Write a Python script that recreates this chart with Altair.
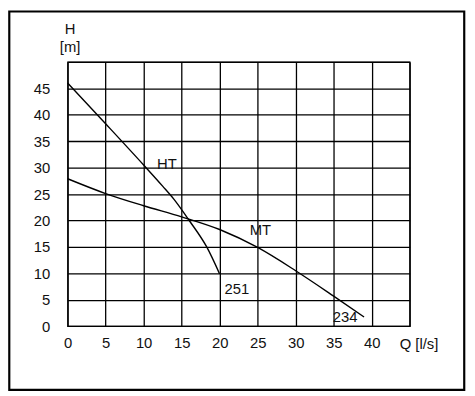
import altair as alt
import pandas as pd

# Curve data
ht_q = [0, 5, 10, 12.5, 14, 16, 18.3, 20.0]
ht_h = [46, 38.3, 30.5, 26.5, 24, 20, 15, 9.9]
mt_q = [0, 5, 10, 15, 20, 25, 30, 35, 39]
mt_h = [27.9, 25.1, 22.8, 20.7, 18.3, 14.9, 10.5, 5.7, 1.75]

label_text = ["HT", "MT", "251", "234"]
label_q = [13.07, 25.36, 22.27, 36.5]
label_h = [30.74, 18.27, 6.96, 1.68]

x_ticks = [0, 5, 10, 15, 20, 25, 30, 35, 40, 45]
y_ticks = [0, 5, 10, 15, 20, 25, 30, 35, 40, 45, 50]

curves = pd.DataFrame(
    {"Q": ht_q + mt_q,
     "H": ht_h + mt_h,
     "curve": ["HT"] * len(ht_q) + ["MT"] * len(mt_q),
     "order": list(range(len(ht_q))) + list(range(len(mt_q)))}
)
labels = pd.DataFrame({"Q": label_q, "H": label_h, "text": label_text})

FONT = "Liberation Sans"
W, H = 346, 267.4

xs = alt.Scale(domain=[0, 45], nice=False, zero=False)
ys = alt.Scale(domain=[0, 50], nice=False, zero=False)

x_axis = alt.Axis(
    values=x_ticks, grid=True, ticks=False, domain=False,
    labelExpr="datum.value == 45 ? '' : datum.label",
    labelPadding=9, labelFontSize=15, labelFont=FONT, labelColor="#111",
    title="Q [l/s]", titleFont=FONT, titleFontSize=15, titleFontWeight="normal",
    titleColor="#111", titleX=355, titleY=22, titleAlign="center",
    titleBaseline="alphabetic", labelFlush=False,
)
y_axis = alt.Axis(
    values=y_ticks, grid=True, ticks=False, domain=False,
    labelExpr="datum.value == 50 ? '' : datum.label",
    labelPadding=18, labelFontSize=15, labelFont=FONT, labelColor="#111",
    title=["H", "[m]"], titleFont=FONT, titleFontSize=15, titleFontWeight="normal",
    titleColor="#111", titleAngle=0, titleX=2, titleY=-28.6, titleAlign="center",
    titleBaseline="alphabetic", titleLineHeight=18.3, labelFlush=False,
)

lines = alt.Chart(curves).mark_line(
    color="black", strokeWidth=1.4, interpolate="monotone"
).encode(
    x=alt.X("Q:Q", scale=xs, axis=x_axis),
    y=alt.Y("H:Q", scale=ys, axis=y_axis),
    detail="curve:N",
    order="order:Q",
)

texts = alt.Chart(labels).mark_text(
    font=FONT, fontSize=15, color="#111", align="center", baseline="middle"
).encode(
    x=alt.X("Q:Q", scale=xs, axis=x_axis),
    y=alt.Y("H:Q", scale=ys, axis=y_axis),
    text="text:N",
)

frame = alt.Chart(pd.DataFrame({"a": [0]})).mark_rect(
    fillOpacity=0, stroke="black", strokeWidth=2.2
).encode(
    x=alt.value(-59.0), x2=alt.value(401.2),
    y=alt.value(-51.0), y2=alt.value(331.7),
)

chart = alt.layer(lines, texts, frame).properties(
    width=W, height=H,
    autosize=alt.AutoSizeParams(type="none"),
    padding={"left": 60.3, "top": 52.3, "right": 58, "bottom": 68},
    background="white",
).configure_axis(
    gridColor="black", gridWidth=1.3, gridOpacity=1,
).configure_view(
    stroke="black", strokeWidth=1.3,
)

chart.save("out.html", embed_options={"renderer": "svg", "actions": False})
